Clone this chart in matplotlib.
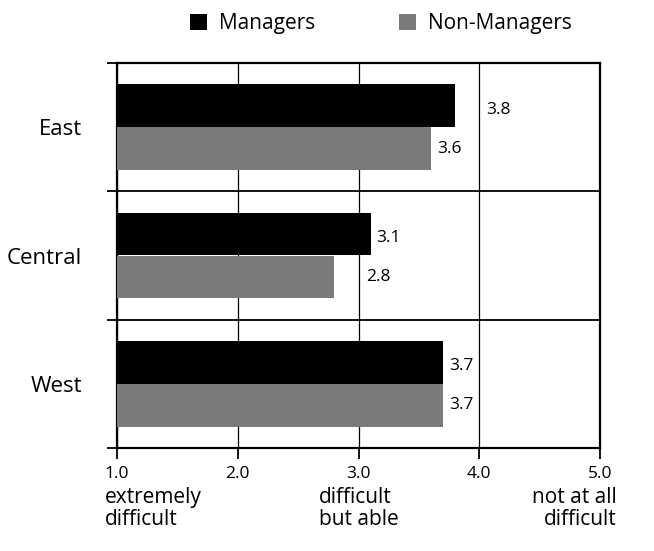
import numpy as np
import matplotlib.pyplot as plt
from matplotlib.patches import Patch

regions = ['East', 'Central', 'West']
managers = [3.8, 3.1, 3.7]
non_managers = [3.6, 2.8, 3.7]
x_ticks = [1.0, 2.0, 3.0, 4.0, 5.0]
scale_labels = [(1.0, 'extremely\ndifficult'), (3.0, 'difficult\nbut able'), (5.0, 'not at all\ndifficult')]

plt.rcParams['font.family'] = ['Open Sans', 'DejaVu Sans']

fig = plt.figure(figsize=(6.54, 5.51), dpi=100)
ax = fig.add_axes([117/654, 1 - 448/551, (600-117)/654, (448-63)/551])

y = np.arange(len(regions))
h = 0.335
ax.barh(y - h/2, np.array(managers) - 1, height=h, left=1, color='black', lw=0, zorder=3)
ax.barh(y + h/2, np.array(non_managers) - 1, height=h, left=1, color='#7a7a7a', lw=0, zorder=3)

def label_pos(v):
    # push the label past a gridline when it would run into it
    nxt = np.ceil(v)
    if nxt - v < 0.25:
        return nxt + 0.06
    return v + 0.05

for i in range(len(regions)):
    ax.text(label_pos(managers[i]), y[i] - h/2 + 0.03, f'{managers[i]:.1f}', va='center', ha='left', fontsize=12.5)
    ax.text(label_pos(non_managers[i]), y[i] + h/2, f'{non_managers[i]:.1f}', va='center', ha='left', fontsize=12.5)

ax.set_xlim(1, 5)
ax.set_ylim(2.5, -0.5)
ax.set_xticks(x_ticks)
ax.set_xticklabels([f'{v:.1f}' for v in x_ticks], fontsize=12.5)
ax.set_yticks(y)
ax.set_yticklabels(regions, fontsize=16)
ax.set_yticks(np.arange(-0.5, len(regions)), minor=True)
ax.tick_params(axis='y', which='major', length=0, pad=25)
ax.tick_params(axis='y', which='minor', length=7, width=1.3, direction='out')
ax.tick_params(axis='x', length=8, width=1.3, pad=5, direction='out')

ax.grid(True, axis='x', color='black', lw=0.9, zorder=1)
ax.grid(True, axis='y', which='minor', color='black', lw=1.3, zorder=1)
for s in ax.spines.values():
    s.set_linewidth(1.6)

for xv, txt in scale_labels:
    if xv == x_ticks[0]:
        ha, ma, dx = 'left', 'left', -9
    elif xv == x_ticks[-1]:
        ha, ma, dx = 'right', 'right', 12
    else:
        ha, ma, dx = 'center', 'left', 0
    ax.annotate(txt, xy=(xv, 0), xycoords=('data', 'axes fraction'), xytext=(dx, -28),
                textcoords='offset points', ha=ha, va='top', multialignment=ma,
                fontsize=15, linespacing=1.05, annotation_clip=False)

handles = [Patch(facecolor='black'), Patch(facecolor='#7a7a7a')]
fig.legend(handles, ['Managers', 'Non-Managers'], loc='center', bbox_to_anchor=(381/654, 1 - 24/551),
           ncol=2, frameon=False, fontsize=15, handlelength=0.8, handleheight=0.8,
           handletextpad=0.6, columnspacing=4.0)

fig.savefig('out.png', dpi=100)
